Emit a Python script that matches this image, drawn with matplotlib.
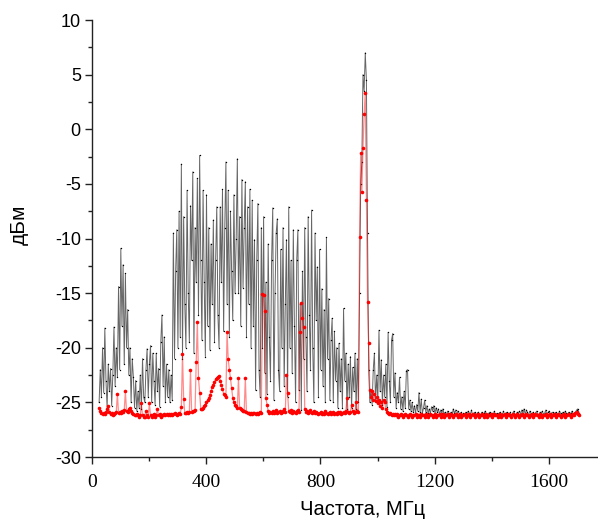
import numpy as np
import matplotlib
matplotlib.use("Agg")
import matplotlib.pyplot as plt
from matplotlib.ticker import MultipleLocator

# frequency grid, MHz (4 MHz step)
freq = np.arange(25, 1706, 4)

# black trace (without filter), dBm
level_raw = [
    -25.0, -22.0, -24.5, -20.0, -24.1, -18.2, -23.0, -25.5, -21.5, -24.0,
    -21.9, -25.3, -22.5, -18.1, -23.5, -20.0, -22.7, -14.4, -22.0, -10.9,
    -18.0, -12.4, -21.5, -13.2, -20.0, -16.5, -22.5, -20.0, -25.0, -21.0,
    -22.7, -25.5, -23.0, -25.8, -24.0, -25.5, -22.5, -25.6, -21.0, -24.5,
    -25.0, -22.0, -20.1, -24.5, -21.5, -19.8, -25.0, -20.5, -23.0, -25.2,
    -20.5, -24.0, -21.9, -25.4, -19.5, -17.0, -23.5, -19.0, -25.0, -21.5,
    -24.5, -22.0, -25.0, -22.5, -24.8, -9.5, -21.0, -13.0, -9.2, -20.0,
    -7.5, -19.0, -3.2, -21.0, -8.0, -16.0, -20.0, -5.6, -15.0, -19.5,
    -7.0, -12.0, -3.9, -20.5, -9.0, -14.0, -4.5, -17.0, -2.4, -12.0,
    -19.3, -5.6, -14.0, -20.8, -6.0, -18.0, -9.0, -20.2, -10.5, -16.0,
    -8.3, -19.5, -12.0, -7.1, -17.0, -20.0, -7.1, -14.0, -5.5, -18.5,
    -9.0, -3.0, -16.0, -5.6, -19.0, -7.5, -13.0, -17.5, -6.0, -15.0,
    -10.0, -2.7, -15.0, -8.0, -18.0, -4.6, -14.5, -9.0, -4.8, -19.0,
    -7.1, -16.0, -5.5, -20.0, -6.5, -18.0, -10.1, -23.9, -12.0, -6.8,
    -22.0, -24.5, -9.0, -20.0, -8.0, -22.3, -14.0, -24.2, -10.5, -19.0,
    -23.0, -12.0, -7.2, -24.8, -15.0, -9.5, -8.2, -22.0, -24.0, -11.0,
    -20.0, -9.0, -23.5, -16.0, -10.1, -24.5, -7.1, -20.0, -12.0, -22.3,
    -9.2, -18.0, -25.0, -12.0, -9.2, -23.9, -16.0, -25.7, -13.0, -21.0,
    -9.0, -19.0, -24.0, -8.0, -17.0, -22.0, -7.4, -20.0, -25.0, -9.5,
    -17.5, -12.6, -24.5, -11.0, -22.0, -14.6, -23.5, -16.5, -25.0, -9.9,
    -21.0, -15.5, -24.8, -19.3, -17.3, -25.0, -18.5, -23.0, -20.0, -25.5,
    -19.6, -24.0, -21.0, -25.5, -16.4, -23.0, -20.5, -25.6, -21.5, -24.5,
    -20.8, -25.5, -21.8, -24.0, -20.5, -25.6, -21.0, -25.0, -15.0, -5.0,
    -3.0, 5.0, 3.5, 7.0, 4.5, -9.5, -22.0, -25.0, -23.9, -25.2,
    -22.0, -20.5, -25.0, -22.5, -24.8, -18.4, -24.0, -21.1, -25.2, -22.5,
    -24.5, -21.5, -25.4, -18.6, -23.0, -25.0, -19.3, -18.7, -24.5, -22.3,
    -25.5, -24.1, -25.0, -22.7, -25.6, -24.5, -25.8, -24.0, -25.5, -22.1,
    -22.0, -25.6, -24.8, -25.8, -25.0, -25.9, -25.3, -26.0, -25.2, -25.8,
    -24.1, -25.9, -24.7, -26.0, -25.5, -24.8, -25.9, -25.3, -26.0, -25.6,
    -26.0, -25.4, -25.8, -25.3, -26.0, -25.5, -25.9, -25.6, -26.1, -25.7,
    -26.0, -25.6, -26.1, -25.9, -26.2, -25.8, -26.0, -26.1, -25.9, -26.2,
    -25.6, -26.0, -25.7, -26.2, -25.8, -26.0, -26.1, -25.9, -26.2, -26.0,
    -26.1, -25.9, -26.2, -25.8, -26.0, -26.1, -25.7, -26.2, -26.0, -25.9,
    -26.2, -26.0, -25.9, -26.2, -26.1, -25.9, -26.2, -26.0, -25.8, -26.1,
    -26.2, -26.0, -25.9, -26.2, -26.0, -26.1, -25.8, -26.2, -26.0, -26.1,
    -26.0, -25.9, -26.2, -26.1, -25.8, -26.2, -26.0, -25.9, -26.2, -26.1,
    -25.9, -26.2, -26.0, -25.8, -26.1, -26.2, -25.9, -26.0, -25.8, -26.1,
    -25.7, -26.0, -25.6, -26.1, -25.7, -25.9, -26.2, -25.8, -26.0, -26.1,
    -25.9, -26.2, -26.0, -25.8, -26.1, -26.2, -25.9, -26.0, -25.8, -26.1,
    -26.0, -25.7, -26.2, -25.9, -25.8, -26.1, -26.0, -25.9, -26.2, -26.0,
    -25.9, -26.1, -26.2, -25.8, -26.0, -26.1, -25.9, -26.2, -25.8, -26.0,
    -26.1, -25.9, -26.2, -26.0, -25.8, -26.1, -26.0, -25.9, -25.7, -25.6,
    -26.0,
]

# red trace (with filter), dBm
level_filt = [
    -25.5, -25.8, -26.0, -26.1, -26.0, -26.1, -25.9, -25.6, -25.3, -25.9,
    -26.1, -26.0, -26.2, -26.1, -26.0, -25.9, -24.2, -26.0, -25.9, -26.0,
    -25.8, -25.9, -25.7, -24.0, -25.8, -25.9, -25.6, -25.5, -25.8, -26.0,
    -26.1, -26.2, -26.2, -26.1, -26.2, -26.3, -26.2, -25.1, -26.2, -26.3,
    -26.3, -25.8, -26.2, -26.3, -25.1, -26.2, -26.3, -26.2, -26.1, -26.3,
    -26.2, -25.6, -26.2, -26.1, -26.3, -26.2, -26.2, -26.1, -26.2, -26.1,
    -26.2, -26.1, -26.2, -26.1, -26.2, -26.1, -26.0, -26.1, -26.2, -26.1,
    -26.0, -26.1, -25.4, -20.6, -24.7, -26.0, -26.0, -25.9, -26.0, -25.9,
    -22.0, -25.9, -25.8, -25.8, -25.7, -21.3, -17.6, -22.8, -24.1, -25.6,
    -25.6, -25.5, -25.3, -25.2, -25.0, -24.8, -24.6, -24.3, -24.0, -23.6,
    -23.4, -23.1, -22.9, -22.8, -22.7, -22.6, -23.0, -23.4, -23.8, -24.2,
    -24.3, -24.5, -18.6, -21.0, -22.0, -22.8, -23.7, -24.6, -25.0, -25.2,
    -25.3, -25.5, -22.8, -25.5, -25.6, -25.7, -25.8, -25.8, -22.8, -25.9,
    -26.0, -26.0, -26.1, -26.0, -26.1, -26.0, -26.0, -26.1, -26.0, -26.1,
    -26.0, -25.9, -26.0, -15.1, -15.2, -16.6, -24.6, -25.2, -25.8, -26.0,
    -25.9, -26.0, -25.8, -26.0, -25.9, -25.7, -26.0, -25.9, -25.8, -26.0,
    -25.9, -25.8, -25.6, -25.9, -22.5, -24.1, -25.8, -25.9, -25.7, -26.0,
    -25.8, -25.9, -26.0, -25.8, -25.7, -25.9, -18.6, -15.9, -17.3, -18.1,
    -25.6, -25.9, -25.8, -26.0, -25.9, -25.7, -26.0, -25.9, -25.8, -26.0,
    -25.9, -26.0, -26.1, -26.0, -25.9, -26.1, -26.0, -26.1, -25.8, -26.0,
    -26.1, -26.0, -25.9, -26.1, -26.0, -25.9, -26.1, -26.0, -26.1, -25.9,
    -26.0, -25.9, -26.1, -26.0, -25.9, -26.0, -25.8, -24.6, -25.9, -26.0,
    -25.9, -25.2, -25.8, -26.0, -25.9, -25.0, -25.8, -25.9, -9.9, -2.2,
    -5.7, -1.7, 1.4, 3.3, -6.5, -15.8, -19.6, -23.9, -24.5, -24.0,
    -24.8, -24.2, -24.9, -24.5, -25.1, -24.8, -25.3, -25.0, -25.5, -24.8,
    -25.0, -25.6, -25.9, -26.0, -26.1, -26.0, -26.2, -26.1, -26.2, -26.1,
    -26.2, -26.1, -26.3, -26.2, -26.1, -26.2, -26.3, -26.2, -26.1, -26.2,
    -26.3, -26.2, -26.1, -26.2, -26.3, -26.2, -26.2, -26.1, -26.3, -26.2,
    -26.2, -26.3, -26.1, -26.2, -26.2, -26.3, -26.1, -26.2, -26.3, -26.2,
    -26.1, -26.2, -26.3, -26.2, -26.1, -26.3, -26.2, -26.2, -26.1, -26.3,
    -26.2, -26.1, -26.3, -26.2, -26.2, -26.1, -26.3, -26.2, -26.1, -26.2,
    -26.3, -26.2, -26.1, -26.2, -26.3, -26.2, -26.1, -26.3, -26.2, -26.2,
    -26.1, -26.3, -26.2, -26.2, -26.1, -26.3, -26.2, -26.1, -26.2, -26.3,
    -26.2, -26.2, -26.1, -26.3, -26.2, -26.1, -26.2, -26.3, -26.2, -26.1,
    -26.3, -26.2, -26.2, -26.1, -26.3, -26.2, -26.1, -26.2, -26.2, -26.3,
    -26.2, -26.1, -26.3, -26.2, -26.2, -26.1, -26.3, -26.2, -26.1, -26.2,
    -26.2, -26.3, -26.1, -26.2, -26.3, -26.2, -26.1, -26.2, -26.3, -26.2,
    -26.1, -26.2, -26.3, -26.2, -26.1, -26.2, -26.3, -26.2, -26.2, -26.1,
    -26.3, -26.2, -26.1, -26.2, -26.2, -26.3, -26.1, -26.2, -26.3, -26.2,
    -26.2, -26.1, -26.3, -26.2, -26.2, -26.1, -26.3, -26.2, -26.1, -26.2,
    -26.3, -26.2, -26.1, -26.2, -26.3, -26.2, -26.2, -26.1, -26.3, -26.2,
    -26.2, -26.1, -26.2, -26.3, -26.2, -26.1, -26.2, -26.0, -25.9, -26.1,
    -26.2,
]

x_ticks = [0, 400, 800, 1200, 1600]
y_ticks = [-30, -25, -20, -15, -10, -5, 0, 5, 10]

plt.rcParams['font.family'] = ['Liberation Sans', 'DejaVu Sans']
plt.rcParams['axes.unicode_minus'] = False

fig = plt.figure(figsize=(5.98, 5.25), dpi=100)
ax = fig.add_axes([0.1538, 0.1295, 0.8462, 0.8324])

ax.plot(freq, level_raw, color='black', lw=0.7, alpha=0.6, zorder=2)
ax.plot(freq, level_raw, 'o', color='black', ms=1.0, mec='none', zorder=2)
ax.plot(freq, level_filt, color=(1, 0, 0, 0.45), lw=0.9, zorder=3)
ax.plot(freq, level_filt, 'o', color='red', ms=2.6, mec='none', zorder=4)

ax.set_xlim(0, 1772)
ax.set_ylim(-30, 10)
ax.set_xticks(x_ticks)
ax.set_yticks(y_ticks)
ax.xaxis.set_minor_locator(MultipleLocator(200))
ax.yaxis.set_minor_locator(MultipleLocator(2.5))

for s in ['top', 'right']:
    ax.spines[s].set_visible(False)
for s in ['left', 'bottom']:
    ax.spines[s].set_linewidth(1.0)
    ax.spines[s].set_color('#222222')

ax.tick_params(which='major', direction='out', length=5, width=1.0, color='#222222')
ax.tick_params(which='minor', direction='out', length=3, width=1.0, color='#222222')
ax.tick_params(axis='y', labelsize=13, pad=3)
ax.tick_params(axis='x', labelsize=14, pad=7)
for lab in ax.get_xticklabels():
    lab.set_family('Liberation Serif')

ax.set_xlabel('Частота, МГц', fontsize=14.5)
ax.set_ylabel('дБм', fontsize=15)
ax.xaxis.set_label_coords(0.5356, -0.098)
ax.yaxis.set_label_coords(-0.125, 0.531)

fig.savefig('out.png', dpi=100)
